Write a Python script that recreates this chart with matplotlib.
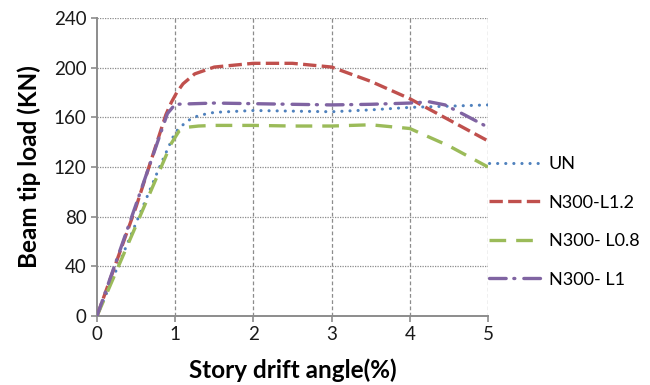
"""
Beam tip load vs story drift angle for the four specimens.
"""
import matplotlib
matplotlib.use("Agg")
import matplotlib.pyplot as plt

plt.rcParams['font.family'] = ['Lato', 'DejaVu Sans']

# data
un_x = [0, 0.5, 0.8, 1.0, 1.15, 1.3, 1.5, 2, 2.5, 3, 3.5, 4, 4.5, 5]
un_y = [0, 75, 120, 148, 157, 161.5, 164, 165.5, 165, 164.5, 166, 168, 169, 170]

l12_x = [0, 0.5, 0.88, 0.95, 1.02, 1.1, 1.25, 1.5, 2, 2.5, 3, 3.5, 4, 4.5, 5]
l12_y = [0, 88, 162, 172, 180, 187, 195, 200.5, 203.5, 203.5, 200.5, 189, 175, 158, 141]

l08_x = [0, 0.5, 0.95, 1.05, 1.15, 1.3, 1.5, 2, 2.5, 3, 3.5, 4, 4.5, 5]
l08_y = [0, 73, 139, 149, 152, 153, 153.5, 153.5, 153, 153, 154, 151, 137, 120]

l1_x = [0, 0.5, 0.9, 1.0, 1.5, 2, 2.5, 3, 3.5, 4, 4.25, 4.45, 4.7, 5]
l1_y = [0, 90, 163, 170.5, 171.5, 171, 170.5, 170, 170.5, 171.5, 172.5, 170, 162, 152]

labels = ['UN', 'N300-L1.2', 'N300- L0.8', 'N300- L1']
x_ticks = [0, 1, 2, 3, 4, 5]
y_ticks = [0, 40, 80, 120, 160, 200, 240]

fig = plt.figure(figsize=(6.5, 3.85), dpi=100)
ax = fig.add_axes([97 / 650, 1 - 316 / 385, 391 / 650, 298 / 385])

ax.plot(un_x, un_y, color='#4F81BD', lw=2.2, linestyle=(0, (0.05, 2.6)),
        dash_capstyle='round', label=labels[0], zorder=3)
ax.plot(l12_x, l12_y, color='#C0504D', lw=2.4, linestyle=(0, (4, 1.6)),
        label=labels[1], zorder=3)
ax.plot(l08_x, l08_y, color='#9BBB59', lw=2.4, linestyle=(0, (5, 3)),
        label=labels[2], zorder=3)
ax.plot(l1_x, l1_y, color='#8064A2', lw=2.4,
        linestyle=(0, (5, 2.3, 0.3, 2.7)), dash_capstyle='round',
        label=labels[3], zorder=3)

ax.set_xlim(0, 5)
ax.set_ylim(0, 240)
ax.set_xticks(x_ticks)
ax.set_yticks(y_ticks)

# grid: dashed verticals, dotted horizontals
for x in x_ticks[1:]:
    ax.axvline(x, color='#8c8c8c', lw=0.9, linestyle=(0, (3, 2)), zorder=1)
for y in y_ticks[1:]:
    ax.axhline(y, color='#8c8c8c', lw=0.9, linestyle=(0, (1, 1)), zorder=1)

for s in ['top', 'right']:
    ax.spines[s].set_visible(False)
for s in ['left', 'bottom']:
    ax.spines[s].set_color('#8c8c8c')
    ax.spines[s].set_linewidth(1.4)
ax.tick_params(colors='#8c8c8c', labelcolor='#1a1a1a', labelsize=13.5,
               length=4, width=1.2)

ax.set_xlabel('Story drift angle(%)', fontsize=17.5, fontweight='bold',
              labelpad=11)
ax.set_ylabel('Beam tip load (KN)', fontsize=17.5, fontweight='bold',
              labelpad=9)

fig.legend(loc='upper left', bbox_to_anchor=(489 / 650, 1 - 156 / 385),
           frameon=False, fontsize=13, handlelength=2.8, handletextpad=0.5,
           labelspacing=1.25, borderpad=0, borderaxespad=0)

fig.savefig('out.png', dpi=100)
